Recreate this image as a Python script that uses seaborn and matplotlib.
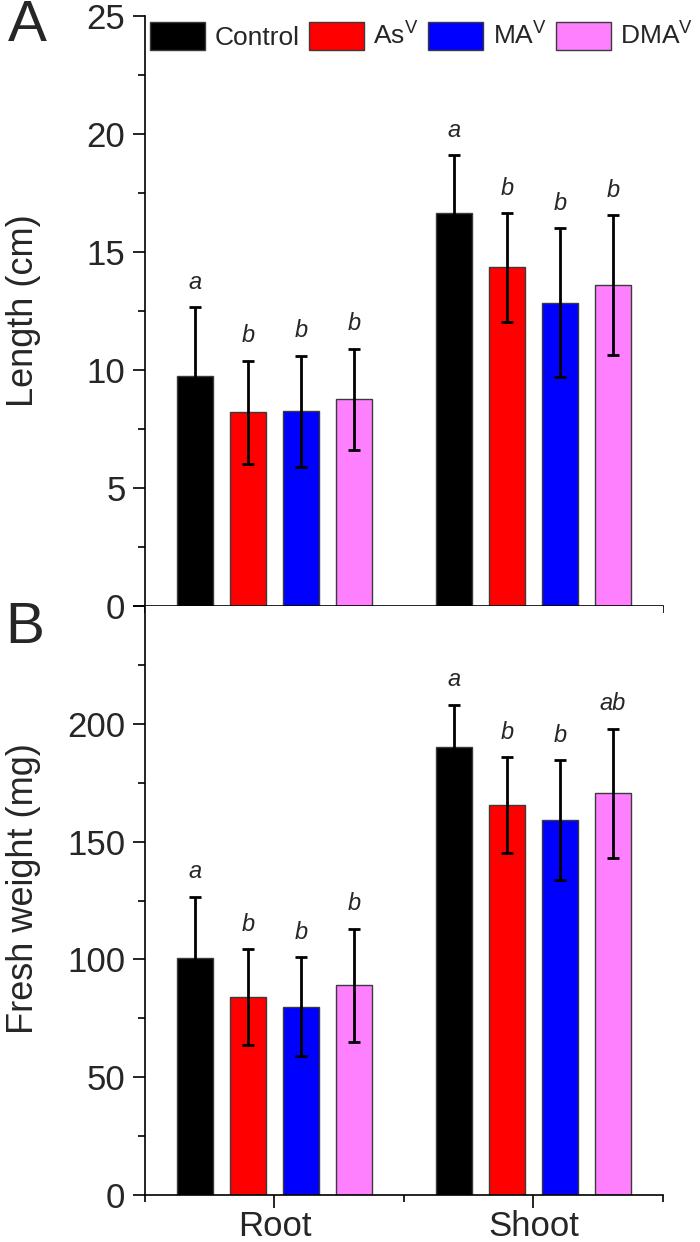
import numpy as np
import pandas as pd
import seaborn as sns
import matplotlib.pyplot as plt
from matplotlib.patches import Patch
from matplotlib.ticker import MultipleLocator

# data
tissues = ["Root", "Shoot"]
treatments = ["Control", "As$^{\\mathrm{V}}$", "MA$^{\\mathrm{V}}$", "DMA$^{\\mathrm{V}}$"]
colors = ["#000000", "#ff0000", "#0000ff", "#ff80ff"]

length_root = [9.75, 8.2, 8.25, 8.75]
length_shoot = [16.65, 14.35, 12.85, 13.6]
length_root_err = [2.9, 2.2, 2.35, 2.15]
length_shoot_err = [2.45, 2.3, 3.15, 2.95]
length_root_sig = ["a", "b", "b", "b"]
length_shoot_sig = ["a", "b", "b", "b"]

weight_root = [100.5, 84.0, 80.0, 89.0]
weight_shoot = [190.0, 165.5, 159.0, 170.5]
weight_root_err = [26.0, 20.3, 21.0, 24.0]
weight_shoot_err = [18.0, 20.2, 25.5, 27.5]
weight_root_sig = ["a", "b", "b", "b"]
weight_shoot_sig = ["a", "b", "b", "ab"]


def make_df(root, shoot, root_err, shoot_err, root_sig, shoot_sig):
    rows = []
    for tissue, vals, errs, sigs in [("Root", root, root_err, root_sig),
                                     ("Shoot", shoot, shoot_err, shoot_sig)]:
        for trt, v, e, s in zip(treatments, vals, errs, sigs):
            rows.append({"tissue": tissue, "treatment": trt, "value": v, "err": e, "sig": s})
    return pd.DataFrame(rows)


sns.set_style("ticks")
plt.rcParams['font.family'] = ['Liberation Sans', 'DejaVu Sans']
plt.rcParams['mathtext.fontset'] = 'custom'
plt.rcParams['mathtext.rm'] = 'Liberation Sans'
plt.rcParams['mathtext.it'] = 'Liberation Sans:italic'

fig = plt.figure(figsize=(7, 12.42), dpi=100)
ax_top = fig.add_axes([0.207, 0.5121, 0.74, 0.475])
ax_bot = fig.add_axes([0.207, 0.0378, 0.74, 0.4743])


def draw_panel(ax, df, ymax, major, ylabel, label_y):
    sns.barplot(data=df, x="tissue", y="value", hue="treatment", order=tissues,
                hue_order=treatments, palette=colors, width=0.818, gap=0.32,
                edgecolor="#3a3a3a", linewidth=1, errorbar=None, legend=False,
                saturation=1, ax=ax)
    for i, trt in enumerate(treatments):
        sub = df[df.treatment == trt].set_index("tissue").loc[tissues]
        for bar, (_, row) in zip(ax.containers[i], sub.iterrows()):
            xc = bar.get_x() + bar.get_width() / 2
            ax.errorbar(xc, row.value, yerr=row.err, fmt="none", ecolor="black",
                        elinewidth=2, capsize=4.5, capthick=2)
            ax.annotate(row.sig, (xc, row.value + row.err), xytext=(0, 18),
                        textcoords="offset points", ha="center", va="center",
                        fontsize=17, style="italic")
    ax.set_xlim(-0.5, 1.5)
    ax.set_ylim(0, ymax)
    ax.yaxis.set_major_locator(MultipleLocator(major))
    ax.yaxis.set_minor_locator(MultipleLocator(major / 2))
    ax.set_xticks([-0.5, 0.5, 1.5], minor=True)
    ax.tick_params(axis="both", which="major", direction="out", length=9, width=1.2,
                   labelsize=25, pad=5, color="black")
    ax.tick_params(axis="both", which="minor", direction="out", length=5, width=1.2,
                   color="black")
    ax.set_xlabel("")
    ax.set_ylabel(ylabel, fontsize=26)
    ax.yaxis.set_label_coords(-0.2, label_y)
    sns.despine(ax=ax)
    for s in ["left", "bottom"]:
        ax.spines[s].set_linewidth(1.2)
        ax.spines[s].set_color("black")


df_len = make_df(length_root, length_shoot, length_root_err, length_shoot_err,
                 length_root_sig, length_shoot_sig)
df_wt = make_df(weight_root, weight_shoot, weight_root_err, weight_shoot_err,
                weight_root_sig, weight_shoot_sig)

draw_panel(ax_top, df_len, 25, 5, "Length (cm)", 0.5)
draw_panel(ax_bot, df_wt, 250, 50, "Fresh weight (mg)", 0.52)

ax_top.tick_params(axis="x", labelbottom=False)
ax_bot.set_yticks([0, 50, 100, 150, 200, 250])
ax_bot.set_yticklabels(["0", "50", "100", "150", "200", ""])
ax_bot.tick_params(axis="x", labelsize=25, pad=2)

handles = [Patch(facecolor=c, edgecolor="#3a3a3a", linewidth=1) for c in colors]
ax_top.legend(handles, treatments, loc="center left", bbox_to_anchor=(0.214, 0.971),
              bbox_transform=fig.transFigure, ncol=4, frameon=False, fontsize=19,
              handlelength=2.1, handleheight=1.25, handletextpad=0.35,
              columnspacing=0.35, borderpad=0, borderaxespad=0)

fig.text(0.011, 1 - 26 / 1242, "A", fontsize=42, va="center", ha="left")
fig.text(0.007, 1 - 628 / 1242, "B", fontsize=42, va="center", ha="left")

fig.savefig("out.png", dpi=100)
